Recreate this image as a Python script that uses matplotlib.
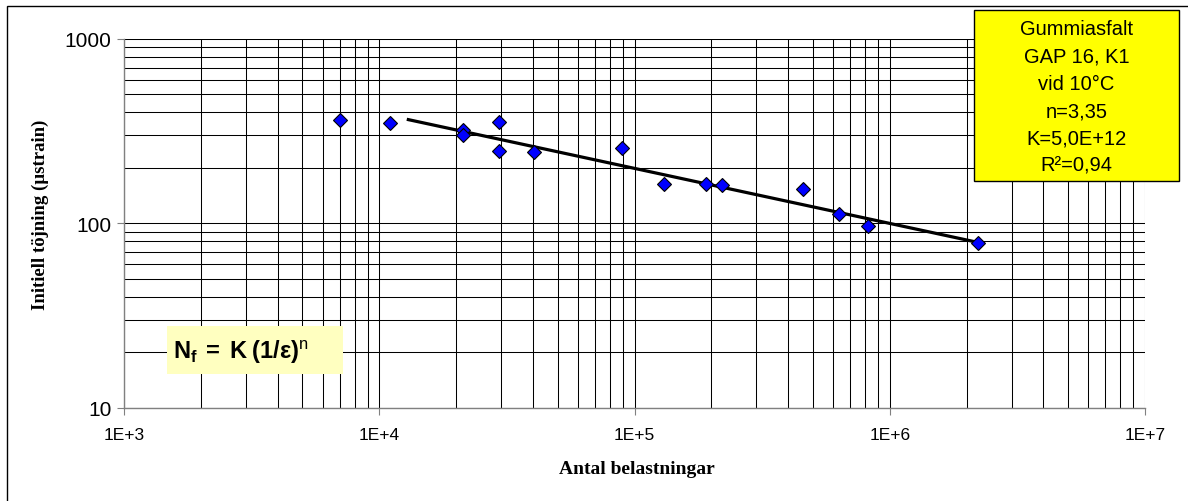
import numpy as np
import matplotlib
matplotlib.use("Agg")
import matplotlib.pyplot as plt
from matplotlib.ticker import LogLocator, FixedLocator, NullFormatter
from matplotlib.patches import Rectangle

plt.rcParams["mathtext.fontset"] = "custom"
plt.rcParams["mathtext.rm"] = "Liberation Sans"
plt.rcParams["mathtext.it"] = "Liberation Sans"
plt.rcParams["mathtext.bf"] = "Liberation Sans:bold"

# Utmattningsdata: antal belastningar och initiell töjning
antal = [7000, 11000, 21300, 21300, 29500, 29500, 40500, 89000,
         130000, 191000, 221000, 459000, 634000, 820000, 2220000]
tojning = [363, 349, 320, 301, 354, 247, 244, 256,
           164, 164, 161, 153, 113, 97, 78]

# Trendlinje Nf = K (1/eps)^n
K = 5.0e12
n = 3.35
linje_fran = 13000
linje_till = 2220000

info_rader = ["Gummiasfalt", "GAP 16, K1", "vid 10°C", "n=3,35", "K=5,0E+12", "R²=0,94"]

W, H = 1188, 502
fig = plt.figure(figsize=(W / 100, H / 100), dpi=100)
fig.patches.append(Rectangle((7 / W, -0.1), 1.2, 1.1 - 7 / H, transform=fig.transFigure,
                             fill=False, edgecolor="black", linewidth=1.0))

ax = fig.add_axes([124 / W, 1 - 408.7 / H, (1145 - 124) / W, (408.7 - 40) / H])
ax.set_xscale("log")
ax.set_yscale("log")
ax.set_xlim(1e3, 1e7)
ax.set_ylim(10, 1000)

ax.xaxis.set_major_locator(FixedLocator([1e3, 1e4, 1e5, 1e6, 1e7]))
ax.yaxis.set_major_locator(FixedLocator([10, 100, 1000]))
ax.xaxis.set_minor_locator(LogLocator(base=10, subs=np.arange(2, 10)))
ax.yaxis.set_minor_locator(LogLocator(base=10, subs=np.arange(2, 10)))
ax.xaxis.set_minor_formatter(NullFormatter())
ax.yaxis.set_minor_formatter(NullFormatter())
ax.set_xticklabels(["1E+3", "1E+4", "1E+5", "1E+6", "1E+7"])
ax.set_yticklabels(["10", "100", "1000"])

ax.grid(True, which="both", color="black", linewidth=0.75)
ax.set_axisbelow(True)
ax.tick_params(which="major", direction="out", length=5, width=0.8, color="#808080")
ax.tick_params(axis="x", which="major", labelsize=12.5, pad=9)
ax.tick_params(axis="y", which="major", labelsize=15, pad=4)
ax.tick_params(which="minor", length=0)
for lbl in ax.get_xticklabels() + ax.get_yticklabels():
    lbl.set_fontfamily("Liberation Sans")
for side in ["left", "bottom"]:
    ax.spines[side].set_color("#808080")
    ax.spines[side].set_linewidth(1.0)
for side in ["top", "right"]:
    ax.spines[side].set_visible(False)

# trendlinje
x_lin = np.logspace(np.log10(linje_fran), np.log10(linje_till), 50)
y_lin = (K / x_lin) ** (1 / n)
ax.plot(x_lin, y_lin, color="black", linewidth=2.3, zorder=3)

ax.plot(antal, tojning, linestyle="none", marker="D", markersize=7.5,
        markerfacecolor="#0000FF", markeredgecolor="black", markeredgewidth=0.8, zorder=4)

# axeltitlar
fig.text(637 / W, 1 - 470 / H, "Antal belastningar", ha="center", va="center",
         fontfamily="Liberation Serif", fontweight="bold", fontsize=14)
fig.text(40 / W, 1 - 215 / H, "Initiell töjning (µstrain)", ha="center", va="center",
         rotation=90, fontfamily="Liberation Serif", fontweight="bold", fontsize=13.5)

# informationsruta
fig.patches.append(Rectangle((974 / W, 1 - 182 / H), 205 / W, 171 / H,
                             transform=fig.transFigure, facecolor="#FFFF00",
                             edgecolor="black", linewidth=1.0, zorder=5))
for i, rad in enumerate(info_rader):
    fig.text(1076.5 / W, 1 - (30 + 27.2 * i) / H, rad, ha="center", va="center",
             fontfamily="Liberation Sans", fontsize=14.5, zorder=6)

# formelruta
fig.patches.append(Rectangle((167 / W, 1 - 375 / H), 176 / W, 48 / H,
                             transform=fig.transFigure, facecolor="#FFFFC0",
                             edgecolor="none", zorder=5))
fig.text(173 / W, 1 - 359 / H, r"$\mathbf{N_f\;=\;K\;(1/ε)}^{\mathrm{n}}$",
         ha="left", va="baseline", fontsize=17, zorder=6)

fig.savefig("out.png", dpi=100)
